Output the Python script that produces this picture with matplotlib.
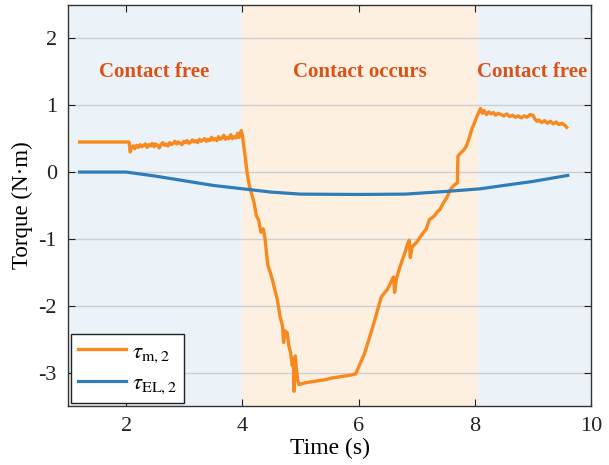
import matplotlib
matplotlib.use("Agg")
import matplotlib.pyplot as plt

plt.rcParams['font.family'] = ['Liberation Serif', 'DejaVu Serif']
plt.rcParams['mathtext.fontset'] = 'stix'
plt.rcParams['axes.unicode_minus'] = False

# --- data ---
t_m = [1.20, 2.05, 2.07, 2.09, 2.12, 2.15, 2.18, 2.21, 2.24, 2.27, 2.30, 2.33, 2.36, 2.39,
       2.42, 2.45, 2.48, 2.51, 2.54, 2.57, 2.60, 2.63, 2.66, 2.69, 2.72, 2.75, 2.78, 2.81,
       2.84, 2.87, 2.90, 2.93, 2.96, 2.99, 3.02, 3.05, 3.08, 3.11, 3.14, 3.17, 3.20, 3.23,
       3.26, 3.29, 3.32, 3.35, 3.38, 3.41, 3.44, 3.47, 3.50, 3.53, 3.56, 3.59, 3.62, 3.65,
       3.68, 3.71, 3.74, 3.77, 3.80, 3.83, 3.86, 3.89, 3.92, 3.94, 3.96, 3.98, 4.00,
       4.03, 4.06, 4.08, 4.12, 4.15, 4.20, 4.24, 4.28, 4.32, 4.36, 4.39, 4.42, 4.44, 4.48,
       4.52, 4.56, 4.60, 4.65, 4.69, 4.71, 4.73, 4.75, 4.77, 4.80, 4.83, 4.86, 4.88, 4.89,
       4.91, 4.93, 4.95, 4.97, 5.10, 5.25, 5.40, 5.55, 5.70, 5.85, 5.95, 6.10, 6.25, 6.39,
       6.50, 6.57, 6.60, 6.62, 6.65, 6.70, 6.75, 6.80, 6.84, 6.87, 6.89, 6.92, 7.00, 7.10,
       7.16, 7.22, 7.30, 7.35, 7.40, 7.46, 7.52, 7.58, 7.64, 7.70, 7.71, 7.75, 7.80, 7.85,
       7.90, 7.94, 8.00, 8.05, 8.10, 8.13, 8.16, 8.20, 8.24, 8.28, 8.32, 8.36, 8.40, 8.45,
       8.50, 8.55, 8.60, 8.65, 8.70, 8.75, 8.80, 8.85, 8.90, 8.95, 9.00, 9.03, 9.07, 9.10,
       9.15, 9.20, 9.25, 9.30, 9.35, 9.40, 9.45, 9.50, 9.55, 9.58]
tau_m = [0.45, 0.45, 0.30, 0.36, 0.39, 0.35, 0.40, 0.37, 0.41, 0.38, 0.40, 0.42, 0.37, 0.41,
         0.39, 0.43, 0.38, 0.42, 0.40, 0.36, 0.41, 0.44, 0.40, 0.42, 0.39, 0.44, 0.41, 0.43,
         0.46, 0.42, 0.45, 0.43, 0.41, 0.46, 0.44, 0.47, 0.43, 0.45, 0.48, 0.45, 0.47, 0.44,
         0.49, 0.46, 0.48, 0.50, 0.46, 0.49, 0.47, 0.52, 0.48, 0.50, 0.47, 0.53, 0.49, 0.51,
         0.55, 0.49, 0.52, 0.50, 0.56, 0.50, 0.53, 0.51, 0.58, 0.52, 0.55, 0.62, 0.55,
         0.35, 0.15, 0.00, -0.20, -0.30, -0.45, -0.65, -0.72, -0.90, -0.85, -1.00, -1.25, -1.40, -1.50,
         -1.62, -1.77, -1.90, -2.17, -2.30, -2.55, -2.37, -2.45, -2.40, -2.60, -2.70, -2.90, -2.80, -3.28,
         -2.75, -2.95, -3.10, -3.18, -3.15, -3.13, -3.11, -3.08, -3.06, -3.04, -3.02, -2.72, -2.30, -1.87,
         -1.75, -1.62, -1.57, -1.80, -1.60, -1.45, -1.32, -1.20, -1.08, -1.02, -1.28, -1.12, -1.05, -0.92,
         -0.86, -0.71, -0.66, -0.60, -0.56, -0.46, -0.38, -0.26, -0.20, -0.16, 0.24, 0.28, 0.32, 0.38,
         0.50, 0.62, 0.75, 0.86, 0.95, 0.88, 0.92, 0.86, 0.90, 0.87, 0.89, 0.85, 0.88, 0.86,
         0.84, 0.87, 0.83, 0.85, 0.82, 0.84, 0.81, 0.84, 0.82, 0.86, 0.85, 0.80, 0.76, 0.78,
         0.74, 0.77, 0.73, 0.76, 0.72, 0.75, 0.71, 0.73, 0.70, 0.67]

t_el = [1.2, 2.0, 2.5, 3.0, 3.5, 4.0, 4.5, 5.0, 6.0, 6.8, 7.5, 8.1, 8.5, 9.0, 9.6]
tau_el = [0.0, 0.0, -0.06, -0.13, -0.20, -0.25, -0.30, -0.33, -0.335, -0.33, -0.29, -0.25, -0.20, -0.14, -0.05]

phases = [(1.0, 4.0, 'Contact free'), (4.0, 8.05, 'Contact occurs'), (8.05, 10.0, 'Contact free')]
phase_colors = ['#EBF3F8', '#FDF0E0', '#EBF3F8']
phase_text_x = [2.49, 6.03, 8.98]

xticks = [2, 4, 6, 8, 10]
yticks = [-3, -2, -1, 0, 1, 2]

fig = plt.figure(figsize=(6.09, 4.65), dpi=100)
ax = fig.add_axes([0.1117, 0.1269, 0.8588, 0.8624])

for (x0, x1, label), c, tx in zip(phases, phase_colors, phase_text_x):
    ax.axvspan(x0, x1, color=c, lw=0, zorder=0)
    ax.text(tx, 1.5, label, ha='center', va='center', color='#D95319',
            fontsize=15, fontweight='bold', zorder=3, clip_on=False)

ax.plot(t_m, tau_m, color='#F7891E', lw=2.4, label=r'$\tau_{\mathrm{m,2}}$', zorder=4)
ax.plot(t_el, tau_el, color='#2E7DB8', lw=2.3, label=r'$\tau_{\mathrm{EL,2}}$', zorder=4)

ax.set_xlim(1, 10)
ax.set_ylim(-3.5, 2.5)
ax.set_xticks(xticks)
ax.set_yticks(yticks)
ax.yaxis.grid(True, color='#CFCFCF', lw=1.0, zorder=1)
ax.set_axisbelow(True)
ax.tick_params(direction='in', top=True, right=True, length=5, width=0.8,
               labelsize=16, colors='#222222', pad=8)
for s in ax.spines.values():
    s.set_color('#333333')
    s.set_linewidth(1.0)

ax.set_xlabel('Time (s)', fontsize=17, labelpad=1)
ax.set_ylabel('Torque (N·m)', fontsize=16.5, labelpad=4)

leg = ax.legend(loc='lower left', fontsize=16.5, handlelength=2.1, frameon=True,
                fancybox=False, borderaxespad=0.15, borderpad=0.3, labelspacing=0.35,
                handletextpad=0.25)
leg.get_frame().set_edgecolor('#222222')
leg.get_frame().set_linewidth(1.0)
leg.get_frame().set_alpha(1)

fig.savefig('out.png', dpi=100)
